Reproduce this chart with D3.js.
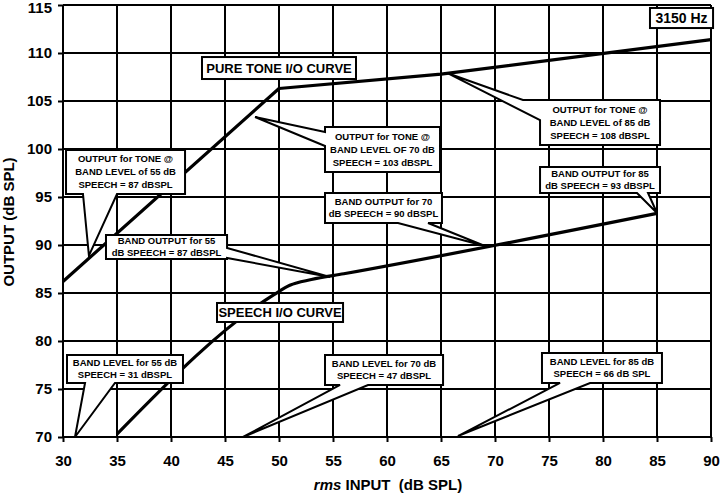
<!DOCTYPE html>
<html lang="en">
<head>
<meta charset="utf-8">
<title>3150 Hz I/O curves</title>
<script src="https://cdn.jsdelivr.net/npm/d3@7"></script>
<style>
  body { margin: 0; background: #fff; }
  svg { display: block; font-family: "Liberation Sans", Arial, sans-serif; font-weight: bold; }
</style>
</head>
<body>
<script>
// axis ticks
var inputTicks = [30, 35, 40, 45, 50, 55, 60, 65, 70, 75, 80, 85, 90];
var outputTicks = [70, 75, 80, 85, 90, 95, 100, 105, 110, 115];

// pure tone I/O curve
var toneInput = [30, 50, 65, 90];
var toneOutput = [86.2, 106.3, 107.8, 111.4];

// speech I/O curve
var speechInput = [35, 49.5, 51, 53, 56, 85];
var speechOutput = [70.3, 84.8, 85.8, 86.4, 87.0, 93.3];

// callouts (all positions in input / output dB units)
var calloutText = [
  ["OUTPUT for TONE @", "BAND LEVEL of 55 dB", "SPEECH = 87 dBSPL"],
  ["OUTPUT for TONE @", "BAND LEVEL OF 70 dB", "SPEECH = 103 dBSPL"],
  ["OUTPUT for TONE @", "BAND LEVEL of 85 dB", "SPEECH = 108 dBSPL"],
  ["BAND OUTPUT for 55", "dB SPEECH = 87 dBSPL"],
  ["BAND OUTPUT for 70", "dB SPEECH = 90 dBSPL"],
  ["BAND OUTPUT for 85", "dB SPEECH = 93 dBSPL"],
  ["BAND LEVEL for 55 dB", "SPEECH = 31 dBSPL"],
  ["BAND LEVEL for 70 dB", "SPEECH = 47 dBSPL"],
  ["BAND LEVEL for 85 dB", "SPEECH = 66 dB SPL"]
];
var calloutBox = [
  [30.28, 99.9, 41.3, 95.31],
  [54.26, 102.29, 64.91, 97.6],
  [74.17, 105.1, 85.28, 100.42],
  [33.98, 91.04, 45.19, 88.54],
  [54.26, 95.42, 65.09, 92.29],
  [74.17, 98.13, 85.28, 95.42],
  [30.37, 78.54, 41.11, 75.63],
  [54.26, 78.54, 65.19, 75.42],
  [74.35, 78.75, 85.46, 75.63]
];
var calloutSide = ["bottom", "left", "left", "right", "bottom", "bottom", "bottom", "bottom", "bottom"];
var calloutBase = [
  [[31.85, 95.31], [35.0, 95.31]],
  [[54.26, 101.77], [54.26, 100.31]],
  [[72.59, 105.1], [74.17, 103.02]],
  [[45.19, 89.69], [45.19, 88.65]],
  [[61.02, 92.29], [63.8, 92.29]],
  [[83.15, 95.42], [84.17, 95.42]],
  [[32.04, 75.63], [34.81, 75.63]],
  [[55.65, 75.42], [58.24, 75.42]],
  [[76.02, 75.63], [78.8, 75.63]]
];
var calloutTip = [
  [32.4, 88.9],
  [47.78, 103.33],
  [65.56, 107.92],
  [54.72, 86.67],
  [69.07, 89.9],
  [85.0, 93.33],
  [31.11, 70],
  [46.67, 70],
  [66.57, 70.1]
];

// plain labels
var labelText = ["PURE TONE I/O CURVE", "SPEECH I/O CURVE", "3150 Hz"];
var labelBox = [
  [42.87, 109.58, 57.13, 107.29],
  [44.26, 83.96, 55.93, 81.98],
  [84.35, 114.69, 90.19, 112.6]
];

var w = 720, h = 496;
var svg = d3.select("body").append("svg").attr("width", w).attr("height", h);

var x = d3.scaleLinear().domain([30, 90]).range([63, 711]);
var y = d3.scaleLinear().domain([70, 115]).range([437, 5]);

// grid
var grid = svg.append("g").attr("stroke", "#000").attr("stroke-width", 2);
grid.selectAll(".vx").data(inputTicks).enter().append("line")
  .attr("x1", function(d) { return x(d); }).attr("x2", function(d) { return x(d); })
  .attr("y1", y(115)).attr("y2", y(70));
grid.selectAll(".hy").data(outputTicks).enter().append("line")
  .attr("x1", x(30)).attr("x2", x(90))
  .attr("y1", function(d) { return y(d); }).attr("y2", function(d) { return y(d); });

// axes
var xAxis = d3.axisBottom(x).tickValues(inputTicks).tickSize(5).tickPadding(13).tickSizeOuter(0);
var yAxis = d3.axisLeft(y).tickValues(outputTicks).tickSize(5).tickPadding(6).tickSizeOuter(0);

var gx = svg.append("g").attr("transform", "translate(0," + y(70) + ")").call(xAxis);
var gy = svg.append("g").attr("transform", "translate(" + x(30) + ",0)").call(yAxis);
[gx, gy].forEach(function(g) {
  g.select(".domain").remove();
  g.selectAll(".tick line").attr("stroke", "#000").attr("stroke-width", 2);
  g.selectAll(".tick text").attr("fill", "#000")
    .style("font-size", "15px").style("font-weight", "bold")
    .style("font-family", "'Liberation Sans', Arial, sans-serif");
});
// top label sits against the page edge, nudge it down a little
gy.selectAll(".tick text").filter(function(d) { return d == 115; }).attr("dy", "0.48em");

// axis titles
var xt = svg.append("text").attr("x", 388).attr("y", 490).attr("text-anchor", "middle")
  .style("font-size", "15px");
xt.append("tspan").style("font-style", "italic").text("rms");
xt.append("tspan").text(" INPUT \u00a0(dB SPL)");

svg.append("text").attr("transform", "translate(14,222) rotate(-90)")
  .attr("text-anchor", "middle").style("font-size", "15px")
  .text("OUTPUT (dB SPL)");

// curves
var line = d3.line().x(function(d) { return x(d[0]); }).y(function(d) { return y(d[1]); });

svg.append("path")
  .datum(d3.zip(toneInput, toneOutput))
  .attr("d", line)
  .attr("fill", "none").attr("stroke", "#000").attr("stroke-width", 3.2)
  .attr("stroke-linejoin", "round");

svg.append("path")
  .datum(d3.zip(speechInput, speechOutput))
  .attr("d", line.curve(d3.curveMonotoneX))
  .attr("fill", "none").attr("stroke", "#000").attr("stroke-width", 3.2)
  .attr("stroke-linejoin", "round");

// callouts: box outline with pointer built into one path
function pt(p) { return [x(p[0]), y(p[1])]; }

function outline(i) {
  var b = calloutBox[i];
  var TL = [x(b[0]), y(b[1])], TR = [x(b[2]), y(b[1])];
  var BR = [x(b[2]), y(b[3])], BL = [x(b[0]), y(b[3])];
  var a = pt(calloutBase[i][0]), c = pt(calloutBase[i][1]), t = pt(calloutTip[i]);
  var pts;
  if (calloutSide[i] == "top") pts = [TL, a, t, c, TR, BR, BL];
  else if (calloutSide[i] == "right") pts = [TL, TR, a, t, c, BR, BL];
  else if (calloutSide[i] == "bottom") pts = [TL, TR, BR, c, t, a, BL];
  else pts = [TL, TR, BR, BL, c, t, a];
  return "M" + pts.join("L") + "Z";
}

var callouts = svg.selectAll(".callout").data(calloutText).enter().append("g");

callouts.append("path")
  .attr("d", function(d, i) { return outline(i); })
  .attr("fill", "#fff").attr("stroke", "#000").attr("stroke-width", 2)
  .attr("stroke-linejoin", "miter");

callouts.each(function(lines, i) {
  var b = calloutBox[i];
  var cx = (x(b[0]) + x(b[2])) / 2;
  var cy = (y(b[1]) + y(b[3])) / 2;
  var step = lines.length == 3 ? 13 : 12;
  d3.select(this).selectAll("text").data(lines).enter().append("text")
    .attr("x", cx)
    .attr("y", function(d, j) { return cy + (j - (lines.length - 1) / 2) * step; })
    .attr("dy", "0.35em")
    .attr("text-anchor", "middle")
    .style("font-size", "9.5px")
    .text(function(d) { return d; });
});

// plain labels
var labels = svg.selectAll(".label").data(labelText).enter().append("g");
labels.append("rect")
  .attr("x", function(d, i) { return x(labelBox[i][0]); })
  .attr("y", function(d, i) { return y(labelBox[i][1]); })
  .attr("width", function(d, i) { return x(labelBox[i][2]) - x(labelBox[i][0]); })
  .attr("height", function(d, i) { return y(labelBox[i][3]) - y(labelBox[i][1]); })
  .attr("fill", "#fff").attr("stroke", "#000").attr("stroke-width", 2);
labels.append("text")
  .attr("x", function(d, i) { return (x(labelBox[i][0]) + x(labelBox[i][2])) / 2; })
  .attr("y", function(d, i) { return (y(labelBox[i][1]) + y(labelBox[i][3])) / 2; })
  .attr("dy", "0.36em")
  .attr("text-anchor", "middle")
  .style("font-size", function(d, i) { return i == 2 ? "14px" : "13px"; })
  .text(function(d) { return d; });
</script>
</body>
</html>
